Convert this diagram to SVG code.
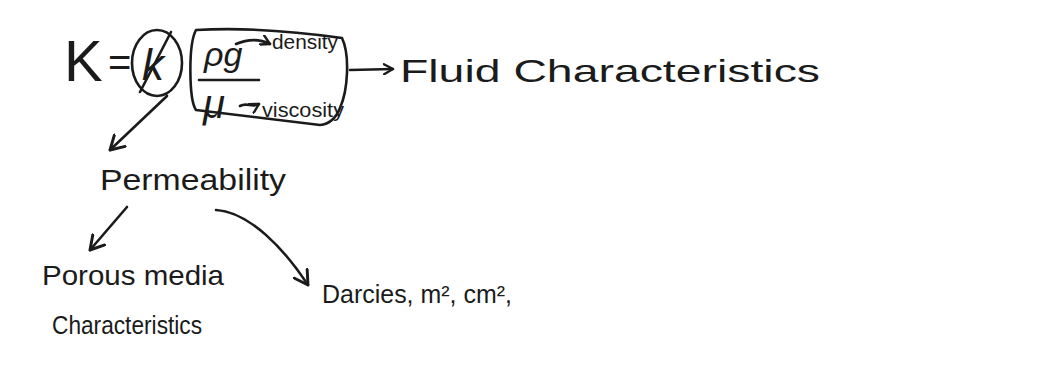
<svg xmlns="http://www.w3.org/2000/svg" width="1049" height="367" viewBox="0 0 1049 367">
  <defs>
    <marker id="head" viewBox="0 0 12 12" refX="10" refY="6" markerWidth="12" markerHeight="12" markerUnits="userSpaceOnUse" orient="auto">
      <path d="M1,1 L10,6 L1,11" fill="none" stroke="#1b1b1b" stroke-width="2.4" stroke-linecap="round" stroke-linejoin="round"/>
    </marker>
    <marker id="headBig" viewBox="0 0 16 16" refX="13" refY="8" markerWidth="18" markerHeight="18" markerUnits="userSpaceOnUse" orient="auto">
      <path d="M1,1 L13,8 L1,15" fill="none" stroke="#1b1b1b" stroke-width="2.6" stroke-linecap="round" stroke-linejoin="round"/>
    </marker>
  </defs>
  <style>
    .ink { fill: #1b1b1b; font-family: "Liberation Sans", "DejaVu Sans", sans-serif; }
    .line { fill: none; stroke: #1b1b1b; stroke-width: 2.6; stroke-linecap: round; stroke-linejoin: round; }
  </style>
  <rect width="1049" height="367" fill="#ffffff"/>

  <!-- K = k (circled) -->
  <g id="equation">
    <text class="ink" x="64" y="81" font-size="58">K</text>
    <text class="ink" x="108" y="76" font-size="40">=</text>
  </g>
  <g id="k-circle">
    <ellipse class="line" cx="157" cy="63" rx="25" ry="33"/>
    <text class="ink" x="142" y="80" font-size="44" font-style="italic">k</text>
    <path class="line" d="M171,32 L140,92"/>
  </g>

  <!-- fluid term in a box -->
  <g id="fluid-box">
    <path class="line" d="M196,30 C250,27 300,32 342,38 C350,55 348,90 340,108 C336,118 330,124 320,125 C280,120 240,115 196,110 C189,100 188,45 196,30 Z"/>
    <text class="ink" x="204" y="66" font-size="34" font-style="italic">ρg</text>
    <path class="line" d="M199,80 L259,80"/>
    <text class="ink" x="203" y="118" font-size="40" font-style="italic">μ</text>
  </g>
  <g id="density">
    <text class="ink" x="272" y="49" font-size="21" textLength="66" lengthAdjust="spacingAndGlyphs">density</text>
  </g>
  <g id="viscosity">
    <text class="ink" x="262" y="117" font-size="21" textLength="82" lengthAdjust="spacingAndGlyphs">viscosity</text>
  </g>
  <g id="fluid-characteristics">
    <text class="ink" x="400" y="82" font-size="32" textLength="420" lengthAdjust="spacingAndGlyphs">Fluid Characteristics</text>
  </g>

  <!-- permeability branch -->
  <g id="permeability">
    <text class="ink" x="100" y="190" font-size="30" textLength="186" lengthAdjust="spacingAndGlyphs">Permeability</text>
  </g>
  <g id="porous-media">
    <text class="ink" x="42" y="285" font-size="28" textLength="182" lengthAdjust="spacingAndGlyphs">Porous media</text>
    <text class="ink" x="52" y="334" font-size="25" textLength="150" lengthAdjust="spacingAndGlyphs">Characteristics</text>
  </g>
  <g id="units">
    <text class="ink" x="322" y="303" font-size="25" textLength="190" lengthAdjust="spacingAndGlyphs">Darcies, m², cm²,</text>
  </g>

  <!-- connectors -->
  <g id="connectors">
    <path class="line" d="M236,44 C250,38 262,40 270,44" marker-end="url(#head)"/>
    <path class="line" d="M240,106 C247,102 252,108 259,104" marker-end="url(#head)"/>
    <path class="line" d="M350,70 L393,69" marker-end="url(#head)"/>
    <path class="line" d="M167,96 L110,150" marker-end="url(#headBig)"/>
    <path class="line" d="M127,207 L90,250" marker-end="url(#headBig)"/>
    <path class="line" d="M216,210 C250,212 285,250 308,285" marker-end="url(#headBig)"/>
  </g>
</svg>
